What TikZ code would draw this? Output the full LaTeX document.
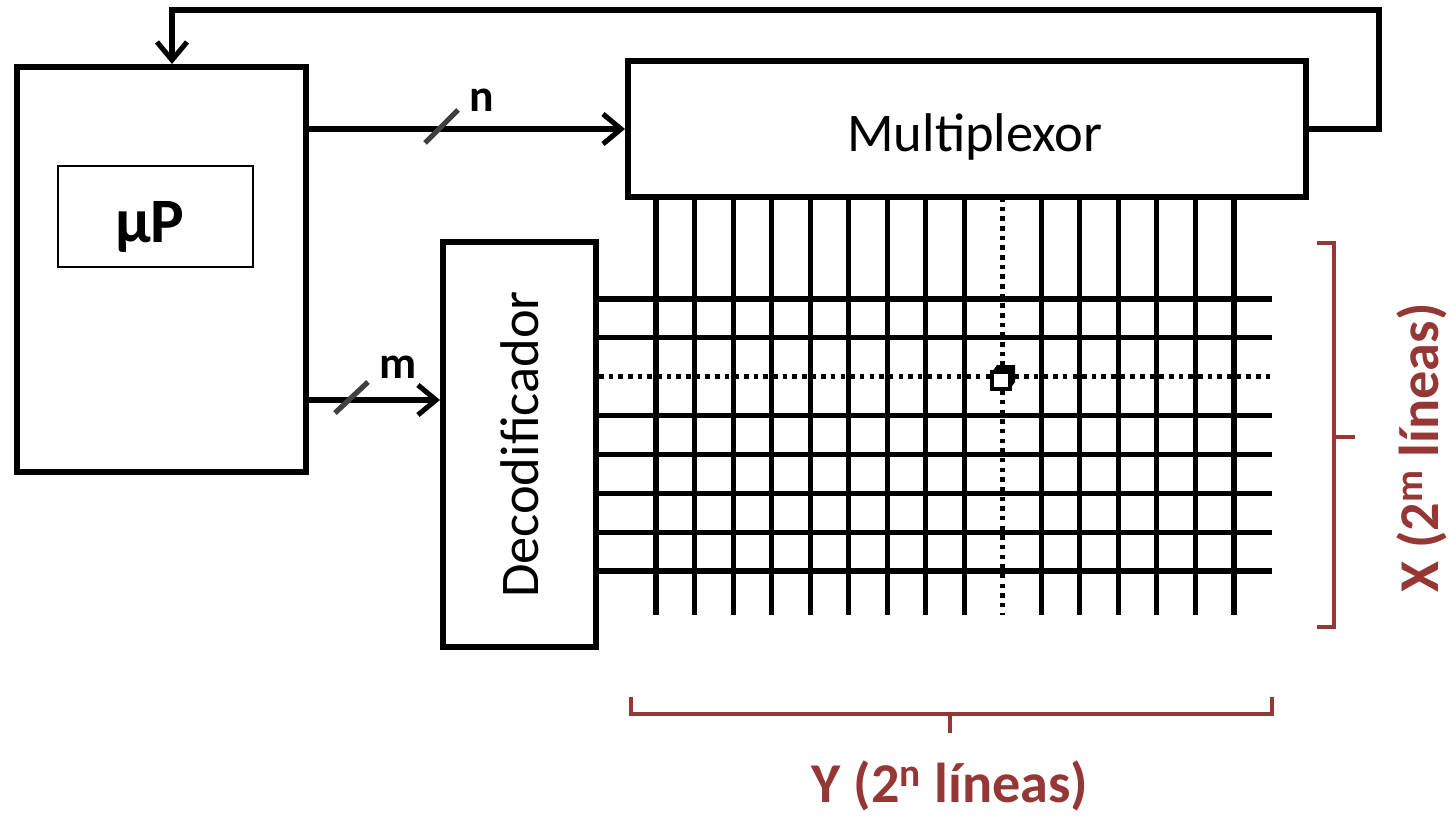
\documentclass[tikz,border=0pt]{standalone}
\usepackage{fontspec}
\setmainfont{Carlito}
\usetikzlibrary{arrows.meta}
\definecolor{bracered}{RGB}{149,55,53}

\begin{document}
\begin{tikzpicture}[x=0.02cm, y=-0.02cm, >={Straight Barb[length=0.36cm, width=0.6cm]},
	block/.style={rectangle, draw, line width=3.5pt, inner sep=0pt},
	wire/.style={line width=2.9pt},
	gridline/.style={line width=2.9pt},
	dotline/.style={line width=2.9pt, dash pattern=on 2.6pt off 2.9pt},
	bus/.style={line width=3pt, draw=black!75},
	bracket/.style={draw=bracered, line width=2.6pt},
	lbl/.style={font=\bfseries\fontsize{26}{30}\selectfont},
	redlbl/.style={text=bracered, inner sep=1pt, font=\bfseries\fontsize{32}{36}\selectfont}]
		\useasboundingbox (0,0) rectangle (1455,818);

		\node [block, minimum width=5.78cm, minimum height=8.1cm] (mup) at (161.5,269.5) {};
		\node [rectangle, draw, line width=0.7pt, minimum width=3.9cm, minimum height=2.02cm] (chip) at (155.5,216.5) {};
		\node [font=\bfseries\fontsize{36}{40}\selectfont] (chiptext) at (150,227) {µP};
		\node [block, minimum width=13.56cm, minimum height=2.72cm] (mux) at (967,129) {};
		\node [font=\fontsize{31}{36}\selectfont] (muxtext) at (975,137) {Multiplexor};
		\node [block, minimum width=3.06cm, minimum height=8.1cm] (dec) at (519.5,444.5) {};
		\node [rotate=90, font=\fontsize{31}{36}\selectfont] (dectext) at (dec) {Decodificador};

		\coordinate (fb) at (172,10);
		\coordinate (min) at (306,400);

	\foreach \i in {0,...,8,10,11,12,13,14,15}
		\draw [gridline] (656+\i*38.53,197) -- (656+\i*38.53,615);
	\draw [dotline] (1002.8,197) -- (1002.8,615);

	\foreach \j in {0,1,3,4,5,6,7}
		\draw [gridline] (599,299+\j*38.86) -- (1272,299+\j*38.86);
	\draw [dotline] (599,376.7) -- (1272,376.7);

	\fill (992,372) -- (997,365) -- (1015,365) -- (1015,382) -- (1010,389) -- (1010,372) -- cycle;
	\draw [line width=2pt, fill=white] (992,372) rectangle (1010,389);

	\begin{scope}[->, wire]
		\draw (mup.east |- mux.west) to (mux.west);
		\draw (min) to (dec.west |- min);
		\draw (mux.east) -- ++(70,0) |- (fb) -- (fb |- mup.north);
	\end{scope}

	\draw [bus] (425,143) -- (458,110);
	\draw [bus] (335,413) -- (368,382);
	\node [lbl] (nlab) at (482,100) {n};
	\node [lbl] (mlab) at (398,367) {m};

	\draw [bracket] (1317,243) -- (1334,243) -- (1334,627) -- (1317,627);
	\draw [bracket] (1334,437) -- (1355,437);
	\draw [bracket] (631,697) -- (631,714) -- (1272,714) -- (1272,697);
	\draw [bracket] (950,714) -- (950,733);

	\node [redlbl, rotate=90] (xlab) at (1422,448) {X (2\textsuperscript{m} líneas)};
	\node [redlbl] (ylab) at (950,786) {Y (2\textsuperscript{n} líneas)};

	\end{tikzpicture}
\end{document}
